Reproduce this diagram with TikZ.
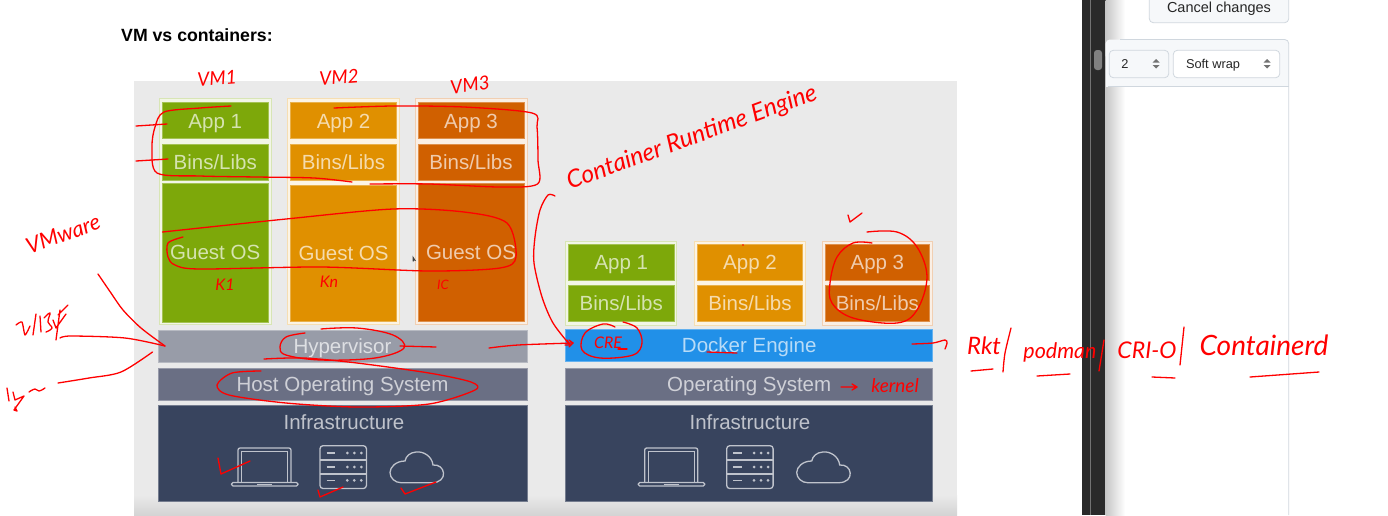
\documentclass[tikz,border=0pt]{standalone}
\usepackage{fontspec}
\setmainfont{Liberation Sans}
\newfontfamily\handfont{Lato}
\newcommand{\hs}[1]{\handfont\itshape\fontsize{#1}{#1}\selectfont}
\newcommand{\fs}[1]{\fontsize{#1}{#1}\selectfont}
\definecolor{cgreen}{HTML}{7DA80A}
\definecolor{corange}{HTML}{E09000}
\definecolor{cdark}{HTML}{D06000}
\definecolor{chyper}{HTML}{989CA8}
\definecolor{chost}{HTML}{6A6F84}
\definecolor{cinfra}{HTML}{38445E}
\definecolor{cblue}{HTML}{2190E8}
\definecolor{cpanel}{HTML}{EAEAEA}
\definecolor{cborder}{HTML}{D0D7DE}
\definecolor{cheader}{HTML}{F6F8FA}
\definecolor{cbar}{HTML}{2A2A2A}
\definecolor{cicon}{HTML}{BFC3CC}
\tikzset{
  flat/.style={inner sep=0,outer sep=0,text=white,text opacity=.68,font=\fs{20.5},text height=14.7pt,text depth=0pt},
  hand/.style={inner sep=0,outer sep=0,text=red},
  ink/.style={draw=red,line width=1.3pt,line cap=round,line join=round},
  icon/.style={draw=cicon,line width=1.3pt},
  ui/.style={inner sep=0,outer sep=0,text=black!85}
}
% name, x1, y1, x2, y2, colour, text
\newcommand{\flatbox}[7]{%
  \pgfmathsetmacro{\bw}{#4-#2}\pgfmathsetmacro{\bh}{#5-#3}%
  \pgfmathsetmacro{\bx}{(#2+#4)/2}\pgfmathsetmacro{\by}{(#3+#5)/2}%
  \node[flat,fill=#6,draw=#6!70!white,line width=.8pt,minimum width=\bw pt,minimum height=\bh pt] (#1) at (\bx,\by) {#7};}
\newcommand{\stackframe}[6]{%
  \pgfmathsetmacro{\bw}{#4-#2}\pgfmathsetmacro{\bh}{#5-#3}%
  \pgfmathsetmacro{\bx}{(#2+#4)/2}\pgfmathsetmacro{\by}{(#3+#5)/2}%
  \node[flat,fill=#6!10!white,draw=#6!30!white,line width=1pt,minimum width=\bw pt,minimum height=\bh pt] (#1) at (\bx,\by) {};}
\newcommand{\infraicons}[1]{%
  \begin{scope}[shift={(#1,0)}]
    \draw[icon,rounded corners=2pt] (238,482) -- (238,448) -- (291,448) -- (291,482);
    \draw[icon,line width=1pt] (241.5,482) -- (241.5,451.5) -- (287.5,451.5) -- (287.5,482);
    \draw[icon,rounded corners=1.5pt] (231.5,482.5) rectangle (298,486);
    \draw[icon,line width=1pt] (257,484) -- (272,484);
    \draw[icon,rounded corners=3pt] (320,445.7) rectangle (366.4,488.5);
    \draw[icon] (320,460) -- (366.4,460) (320,474) -- (366.4,474);
    \foreach \ry in {453,467,480.3}{
      \draw[icon] (326.6,\ry) -- (335,\ry);
      \fill[cicon] (347.3,\ry) circle (1.5) (354.3,\ry) circle (1.5) (361.3,\ry) circle (1.5);
    }
    \draw[icon] (401,482.7) -- (432,482.7) .. controls (440,482.7) and (444,478) .. (443.5,473) .. controls (443,468) and (439,464.5) .. (433,465) .. controls (432,456) and (423,451) .. (416,452) .. controls (410,452.5) and (406,456) .. (405,461) .. controls (396,461) and (390,467) .. (390,472.5) .. controls (390,478) and (395,482.7) .. (401,482.7) -- cycle;
  \end{scope}}
\begin{document}
\begin{tikzpicture}[x=1pt,y=-1pt]
\useasboundingbox (0,0) rectangle (1388,515);
\fill[white] (0,0) rectangle (1388,515);

% ---- page heading
\node[inner sep=0,anchor=west,font=\bfseries\fs{17.7}] (title) at (121,35) {VM vs containers:};

% ---- slide panel
\fill[cpanel] (134,80.5) rectangle (957,495);
\shade[top color=cpanel,bottom color=black!17] (134,495) rectangle (957,515);

% ---- VM stacks
\stackframe{f1}{159}{98}{271.5}{324}{cgreen}
\stackframe{f2}{287.5}{98}{399}{324}{corange}
\stackframe{f3}{415}{98}{527}{324}{cdark}
\flatbox{a1}{162.5}{102.7}{268}{138.7}{cgreen}{App 1}
\flatbox{b1}{162.5}{144.5}{268}{180}{cgreen}{Bins/Libs}
\flatbox{g1}{162.5}{183}{268}{322}{cgreen}{Guest OS}
\flatbox{a2}{290.7}{102.7}{396.4}{138.7}{corange}{App 2}
\flatbox{b2}{290.7}{144.5}{396.4}{180}{corange}{Bins/Libs}
\flatbox{g2}{290.7}{185.5}{396.4}{321.5}{corange}{Guest OS}
\flatbox{a3}{418}{102.7}{524}{138.7}{cdark}{App 3}
\flatbox{b3}{418}{144.5}{524}{180.5}{cdark}{Bins/Libs}
\flatbox{g3}{418}{183.5}{524}{321.5}{cdark}{Guest OS}
\flatbox{hyp}{158}{330}{527}{362.5}{chyper}{Hypervisor}
\flatbox{host}{158}{368}{527}{400.7}{chost}{Host Operating System}
\flatbox{infL}{158}{405}{527}{501}{cinfra}{}
\node[flat] (infLt) at (344,422) {Infrastructure};
\infraicons{0}

% ---- container stacks
\stackframe{f4}{565}{241.7}{676.7}{325.7}{cgreen}
\stackframe{f5}{694.3}{241.7}{805.7}{325.7}{corange}
\stackframe{f6}{822}{241.7}{932.7}{325.7}{cdark}
\flatbox{a4}{568.3}{244.3}{674.3}{280}{cgreen}{App 1}
\flatbox{b4}{568.3}{285.7}{674.3}{321}{cgreen}{Bins/Libs}
\flatbox{a5}{697.3}{244.3}{802.7}{280}{corange}{App 2}
\flatbox{b5}{697.3}{285.7}{802.7}{321}{corange}{Bins/Libs}
\flatbox{a6}{825}{244.3}{929.7}{280}{cdark}{App 3}
\flatbox{b6}{825}{285.7}{929.7}{321}{cdark}{Bins/Libs}
\flatbox{dock}{565.7}{329}{932.7}{361.3}{cblue}{Docker Engine}
\flatbox{os}{565.7}{368}{932.7}{400.7}{chost}{Operating System}
\flatbox{infR}{565.7}{405.3}{932.7}{501}{cinfra}{}
\node[flat] (infRt) at (750,422) {Infrastructure};
\infraicons{406.7}

% ---- mouse cursor
\fill[black!75] (412.5,255.5) -- (412.8,262) -- (414.2,260.5) -- (416,261) -- cycle;

% ---- browser side panel
\fill[cbar] (1082,0) rectangle (1105.7,515);
\draw[black!55,line width=.7pt] (1090.7,0) -- (1090.7,515);
\shade[left color=black!22,right color=white] (1105.7,0) rectangle (1125,515);
\fill[black!50,rounded corners=3pt] (1094,50) rectangle (1102,70);
\draw[cborder,line width=.8pt,fill=cheader,rounded corners=4pt] (1149.3,-6) rectangle (1288.7,22.7);
\node[ui,font=\fs{14.5},text height=10.4pt,text depth=0pt] (cancel) at (1219,7) {Cancel changes};
\fill[cheader,rounded corners=4pt] (1105.7,39.5) rectangle (1288.7,60);
\fill[cheader] (1105.7,50) rectangle (1288.7,86.5);
\draw[cborder,line width=.8pt,rounded corners=4pt] (1120,39.5) -- (1288.7,39.5) -- (1288.7,515);
\draw[cborder,line width=.8pt] (1108,86.5) -- (1288.7,86.5);
\draw[cborder,line width=.8pt,fill=cheader,rounded corners=4pt] (1109.3,50.3) rectangle (1168.7,77.7);
\draw[cborder,line width=.8pt,fill=white,rounded corners=4pt] (1173.3,50.3) rectangle (1279.7,77.7);
\node[ui,font=\fs{12.8},text height=9.2pt,text depth=0pt] (tabsize) at (1125,63.5) {2};
\node[ui,font=\fs{12.8},text height=9.2pt,text depth=0pt,anchor=west] (wrap) at (1186,63.5) {Soft wrap};
\fill[black!55] (1152.5,62.5) -- (1156,59) -- (1159.5,62.5) -- cycle (1152.5,65) -- (1156,68.5) -- (1159.5,65) -- cycle;
\fill[black!55] (1263.5,62.5) -- (1267,59) -- (1270.5,62.5) -- cycle (1263.5,65) -- (1267,68.5) -- (1270.5,65) -- cycle;

% ---- handwritten labels
\node[hand,font=\hs{19},rotate=4] (vm1) at (217,78) {VM1};
\node[hand,font=\hs{19},rotate=4] (vm2) at (339,77) {VM2};
\node[hand,font=\hs{19},rotate=8] (vm3) at (470,85) {VM3};
\node[hand,font=\hs{16}] (k1) at (225,285) {K1};
\node[hand,font=\hs{16}] (k2) at (329,282) {Kn};
\node[hand,font=\hs{13}] (k3) at (443,285) {IC};
\node[hand,font=\hs{22},rotate=20] (vmware) at (63,234) {VMware};
\node[hand,font=\hs{24.5},rotate=20] (crt) at (692,138) {Container Runtime Engine};
\node[hand,font=\hs{16}] (cre) at (608,343) {CRE};
\node[hand,font=\hs{19}] (kern) at (895,386) {kernel};
\node[hand,font=\hs{24}] (rkt) at (984,346) {Rkt};
\node[hand,font=\hs{21.5}] (pod) at (1060,352) {podman};
\node[hand,font=\hs{23}] (crio) at (1147,350) {CRI-O};
\node[hand,font=\hs{28}] (ctrd) at (1264,345) {Containerd};

% ---- handwritten marks: loops
\draw[ink] plot[smooth,tension=.5] coordinates {(231,106) (200,108) (164,112) (155,127) (152,147) (157,173) (200,176) (257,177) (314,178) (352,182)};
\draw[ink] plot[smooth,tension=.5] coordinates {(334,108) (393,106) (464,107) (532,113) (537,127) (538,160) (537.5,184) (500,187) (429,184) (370,184)};
\draw[ink] plot[smooth,tension=.5] coordinates {(162.5,232) (286,219) (393,209) (464,212) (507,223) (516,257) (500,268) (429,271) (321,267) (200,269) (175,265) (168,257) (168,243) (183,237)};
\draw[ink] plot[smooth,tension=.6] coordinates {(305,333) (286,337) (280,347) (286,355) (321,360) (375,358) (404,348) (393,335) (357,328) (321,329)};
\draw[ink] plot[smooth,tension=.5] coordinates {(264,359) (304,358) (357,363) (429,373) (471,382) (475,390) (429,404) (357,407) (286,403) (229,395) (217,385) (232,373) (261,371)};
\draw[ink] plot[smooth,tension=.6] coordinates {(872,243) (853,243) (837,257) (830,283) (832,303) (853,318) (897,323) (917,310) (927,277) (917,247) (897,232) (867,232)};
\draw[ink] plot[smooth,tension=.6] coordinates {(615,327) (603,324) (585,333) (582,350) (600,358) (633,355) (642,343) (637,328) (623,322)};

% ---- handwritten marks: pointers
\coordinate (p1) at (136,126); \coordinate (p2) at (136,161);
\coordinate (hypTip) at (165,346);
\coordinate (hypOut) at (400,346); \coordinate (hypEnd) at (436,347);
\coordinate (hypIn) at (489,348); \coordinate (creTip) at (573,343);
\coordinate (crtEnd) at (555,196); \coordinate (crtTip) at (570,345);
\coordinate (dockOut) at (912,344); \coordinate (dockTip) at (947,343);
\coordinate (osOut) at (841,387); \coordinate (osTip) at (857,387);
\draw[ink] (p1) -- (167,124);
\draw[ink] (p2) -- (168,159);
\draw[ink] plot[smooth] coordinates {(98,274) (111,293) (123,310) (141,328) (hypTip)};
\draw[ink] plot[smooth] coordinates {(60,338) (71,336) (125,338) (hypTip)};
\draw[ink] plot[smooth] coordinates {(58,383) (89,378) (121,372) (152.5,352)};
\draw[ink] (hypOut) -- (hypEnd);
\draw[ink] plot[smooth] coordinates {(hypIn) (518,345) (creTip)};
\draw[ink] (569,340) -- (creTip) -- (569,347);
\draw[ink] plot[smooth] coordinates {(crtEnd) (548,195) (540,210) (535,237) (534,263) (542,297) (553,323) (crtTip)};
\draw[ink] (crtTip) -- (567,340) (crtTip) -- (565,345);
\draw[ink] plot[smooth] coordinates {(dockOut) (933,343) (945,340) (dockTip) (945,349)};
\draw[ink] (osOut) -- (osTip) (852,384) -- (osTip) -- (852,390);

% ---- handwritten marks: checks, underlines, slashes
\draw[ink] (218,458) -- (221,474) -- (250,461);
\draw[ink] (318,490) -- (320,497) -- (343,487);
\draw[ink] (401,488) -- (405,494) -- (436,482);
\draw[ink] (848,215) -- (850,222) -- (862,213);
\fill[red] (743,245) circle (.8);
\draw[ink] (618,349) -- (627,349);
\draw[ink] (707,352) -- (737,353);
\draw[ink] (971,371) -- (993,369);
\draw[ink] (1037,376) -- (1070,374);
\draw[ink] (1152,377) -- (1175,378);
\draw[ink] (1250,377) -- (1319,372);
\draw[ink] plot[smooth] coordinates {(1011,328) (1005,353) (1003,372)};
\draw[ink] (1104,340) -- (1099,371);
\draw[ink] (1184,327) -- (1180,365);

% ---- illegible handwritten scribbles
\draw[ink] plot[smooth,tension=.4] coordinates {(16,325) (22,322) (25,335) (30,326)};
\draw[ink] (36,314) -- (33,335) (40,316) -- (41,332);
\draw[ink] plot[smooth,tension=.7] coordinates {(44,318) (50,313) (48,322) (52,328) (46,332)};
\draw[ink] (60,310) -- (56,340) (53,320) -- (56,328) -- (66,314) (58,315) -- (68,305);
\draw[ink] (7,388) -- (9,401) (13,392) -- (15,400) -- (24,396) (24,396) -- (14,410) -- (17,411) -- (15,407);
\draw[ink] plot[smooth,tension=.8] coordinates {(29,392) (35,389) (39,391) (45,388)};
\end{tikzpicture}
\end{document}
